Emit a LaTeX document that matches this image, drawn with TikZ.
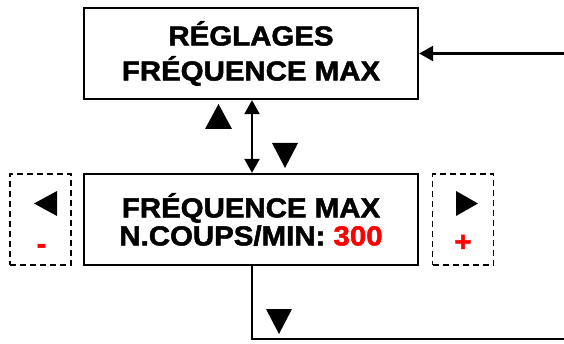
\documentclass[tikz,border=0pt]{standalone}
\usepackage{fontspec}
\setmainfont{Liberation Sans}[FakeStretch=1.07,FakeBold=1.8]
\usetikzlibrary{arrows.meta}
\definecolor{valred}{RGB}{255,0,0}
\begin{document}
\begin{tikzpicture}[x=1pt,y=-1pt,
  menubox/.style={draw,line width=2.3pt,minimum width=334pt,minimum height=91pt,inner sep=0pt,align=center,
    font=\fontsize{27.5}{35}\selectfont\bfseries},
  keybox/.style={draw,dashed,dash pattern=on 6pt off 4pt,line width=1.8pt,minimum width=61pt,minimum height=91pt,inner sep=0pt},
  conn/.style={line width=2.3pt},
  tip/.style={-{Triangle[length=14pt,width=15pt]}},
  marker/.style={fill=black},
  sign/.style={text=valred,font=\fontsize{27.5}{30}\selectfont\bfseries,inner sep=0pt}]
\useasboundingbox (0,0) rectangle (564,344);
\node[menubox] (top) at (251,53.5) {RÉGLAGES\\FRÉQUENCE MAX};
\node[menubox,font=\fontsize{27.5}{28}\selectfont\bfseries] (freq) at (251,219.5) {FRÉQUENCE MAX\\N.COUPS/MIN: \textcolor{valred}{300}};
\node[keybox] (minus) at (40.5,219.5) {};
\node[keybox] (plus) at (463,219.5) {};
\coordinate (inR) at (564,53.5);
\coordinate (bend) at (252,339);
\coordinate (outR) at (564,339);
\draw[conn,tip] (inR) -- (top.east);
\draw[conn,{Triangle[length=14pt,width=15pt]}-{Triangle[length=14pt,width=15pt]}] (top.south -| 252,0) -- (freq.north -| 252,0);
\draw[conn] (freq.south -| 252,0) -- (bend) -- (outR);
\fill[marker] (205,129) -- (232,129) -- (218.5,104) -- cycle;
\fill[marker] (272,143) -- (298,143) -- (285,168) -- cycle;
\fill[marker] (57,191) -- (57,216) -- (34,203.5) -- cycle;
\fill[marker] (456,191) -- (456,216) -- (478,203.5) -- cycle;
\fill[marker] (266,309) -- (292,309) -- (279,334) -- cycle;
\node[sign,anchor=base] (minuslbl) at (41.5,253) {-};
\node[sign,anchor=base] (pluslbl) at (463,251) {+};
\end{tikzpicture}
\end{document}
